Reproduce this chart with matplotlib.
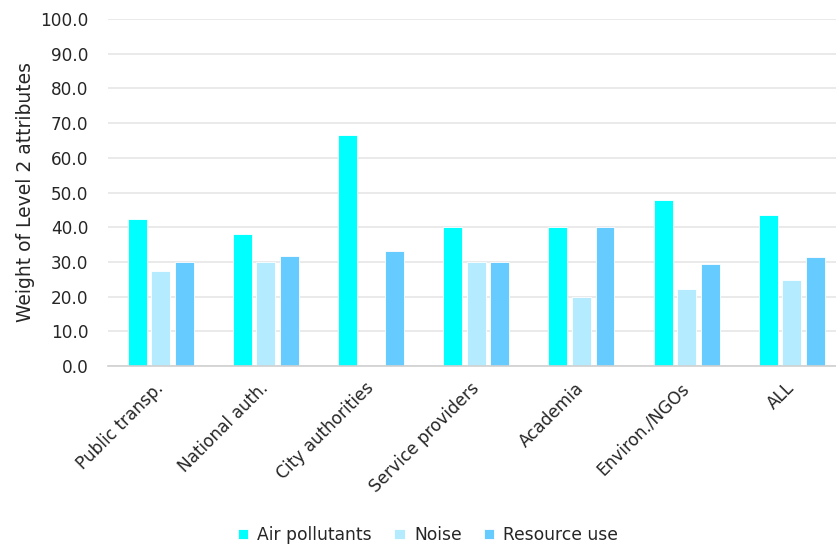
import numpy as np
import matplotlib
matplotlib.use("Agg")
import matplotlib.pyplot as plt

categories = ["Public transp.", "National auth.", "City authorities",
              "Service providers", "Academia", "Environ./NGOs", "ALL"]
air_pollutants = [42.3, 38.0, 66.7, 40.0, 40.0, 47.8, 43.4]
noise = [27.3, 30.0, 0.0, 30.0, 20.0, 22.3, 24.8]
resource_use = [30.0, 31.7, 33.0, 30.0, 40.0, 29.5, 31.4]

series = [
    ("Air pollutants", air_pollutants, "#00FFFF"),
    ("Noise", noise, "#B4EBFF"),
    ("Resource use", resource_use, "#66CCFF"),
]

plt.rcParams["font.family"] = ["DejaVu Sans"]
text_color = "#262626"

fig = plt.figure(figsize=(8.36, 5.47), dpi=100)
ax = fig.add_axes([108 / 836, 1 - 366 / 547, 728 / 836, 347 / 547])

x = np.arange(len(categories))
step = 0.224
width = 0.18
for i, (name, vals, color) in enumerate(series):
    ax.bar(x + (i - 1) * step, vals, width, color=color, label=name,
           edgecolor="white", linewidth=0.6, zorder=3)

ax.set_xlim(-0.5, 6.42)
ax.set_ylim(0, 100)
ax.set_yticks(np.arange(0, 101, 10))
ax.set_yticklabels([f"{v:.1f}" for v in range(0, 101, 10)], fontsize=12.2,
                   color=text_color)
ax.set_xticks(x)
ax.set_xticklabels(categories, rotation=45, ha="right", va="center",
                   rotation_mode="anchor", fontsize=12.2, color=text_color)
ax.tick_params(axis="y", length=0, pad=14)
ax.tick_params(axis="x", length=0, pad=14)

ax.grid(axis="y", color="#E6E6E6", linewidth=1.2, zorder=0)
for side in ("top", "right", "left"):
    ax.spines[side].set_visible(False)
ax.spines["bottom"].set_color("#D0D0D0")
ax.spines["bottom"].set_linewidth(1.2)
ax.spines["bottom"].set_zorder(4)

ax.set_ylabel("Weight of Level 2 attributes", fontsize=13.5, color=text_color,
              labelpad=4)

fig.legend(loc="center", bbox_to_anchor=(0.512, 1 - 535 / 547), ncol=3,
           frameon=False, fontsize=12.3, handlelength=0.6, handleheight=0.6,
           handletextpad=0.55, columnspacing=1.3, labelcolor=text_color)

fig.savefig("out.png", dpi=100)
